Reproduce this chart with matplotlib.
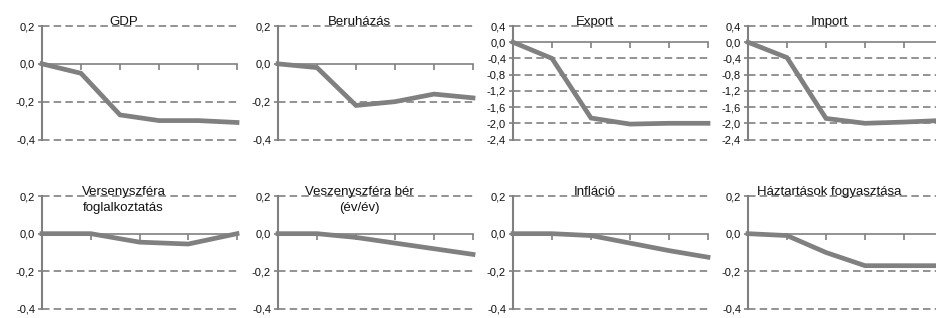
import matplotlib.pyplot as plt
from matplotlib.ticker import FuncFormatter

plt.rcParams['font.family'] = ['Liberation Sans', 'DejaVu Sans']

GRAY = '#808080'

# panel titles and values (deviation from baseline)
titles = ["GDP", "Beruházás", "Export", "Import",
          "Versenyszféra\nfoglalkoztatás", "Veszenyszféra bér\n(év/év)",
          "Infláció", "Háztartások fogyasztása"]

gdp = [0.0, -0.05, -0.27, -0.30, -0.30, -0.31]
beruhazas = [0.0, -0.02, -0.22, -0.20, -0.16, -0.18]
export = [0.0, -0.40, -1.87, -2.02, -2.00, -2.00]
importv = [0.0, -0.38, -1.88, -2.00, -1.97, -1.93]
foglalkoztatas = [0.0, 0.0, -0.045, -0.055, 0.0]
ber = [0.0, 0.0, -0.02, -0.05, -0.08, -0.11]
inflacio = [0.0, 0.0, -0.01, -0.05, -0.09, -0.125]
fogyasztas = [0.0, -0.01, -0.10, -0.17, -0.17, -0.17]

series = [gdp, beruhazas, export, importv, foglalkoztatas, ber, inflacio, fogyasztas]

small_ticks = [0.2, 0.0, -0.2, -0.4]
big_ticks = [0.4, 0.0, -0.4, -0.8, -1.2, -1.6, -2.0, -2.4]


def comma(v, pos):
    s = "%.1f" % v
    if s == "-0.0":
        s = "0.0"
    return s.replace(".", ",")


fig = plt.figure(figsize=(9.36, 3.18), dpi=100)

W, H = 936.0, 318.0
lefts = [42, 278, 513, 748]
width = 195
rows = [(26, 139.5), (196, 309)]

for i, (title, vals) in enumerate(zip(titles, series)):
    r, c = divmod(i, 4)
    top, bot = rows[r]
    ax = fig.add_axes([lefts[c] / W, 1 - bot / H, width / W, (bot - top) / H])

    ticks = big_ticks if i in (2, 3) else small_ticks
    ax.plot(range(len(vals)), vals, color=GRAY, lw=3.4, solid_joinstyle='miter',
            zorder=5, clip_on=False)
    ax.set_xlim(0, len(vals) - 1)
    ax.set_ylim(min(ticks), max(ticks))
    ax.set_yticks(ticks)
    ax.yaxis.set_major_formatter(FuncFormatter(comma))
    ax.set_xticks(range(len(vals)))
    ax.set_xticklabels([])

    for t in ticks:
        if t != 0.0:
            ax.axhline(t, color=GRAY, lw=1.2, ls=(0, (4.5, 2.5)), zorder=1,
                       clip_on=False)

    for s in ("top", "right"):
        ax.spines[s].set_visible(False)
    ax.spines["bottom"].set_position(("data", 0))
    ax.spines["bottom"].set_color(GRAY)
    ax.spines["bottom"].set_linewidth(1.2)
    ax.spines["left"].set_color(GRAY)
    ax.spines["left"].set_linewidth(1.5)
    ax.tick_params(axis="x", direction="out", length=4, width=1.2, color=GRAY)
    ax.tick_params(axis="y", direction="out", length=3, width=1.2, color=GRAY,
                   labelsize=8, pad=2, labelcolor="#111111")
    ax.patch.set_visible(False)

    ax.text(0.418, 1.0 + 10.0 / (bot - top), title, transform=ax.transAxes,
            ha="center", va="top", fontsize=9.5, color="#111111",
            linespacing=1.4, zorder=6)

fig.savefig("out.png", dpi=100)
